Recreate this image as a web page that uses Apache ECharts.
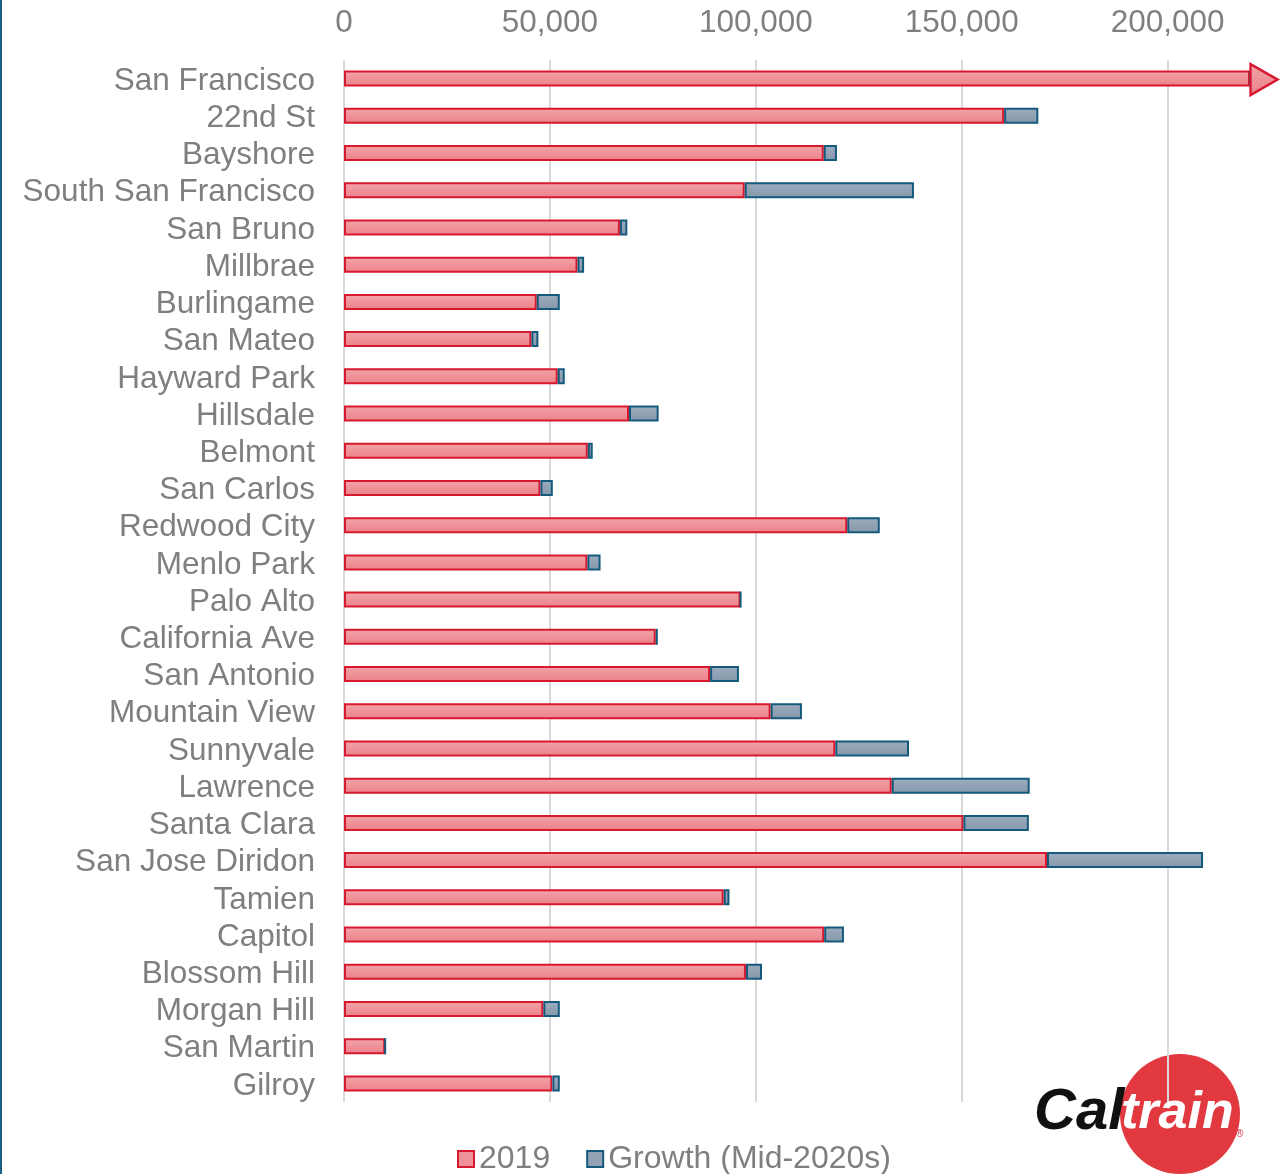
<!DOCTYPE html>
<html>
<head>
<meta charset="utf-8">
<script src="https://cdn.jsdelivr.net/npm/echarts@6/dist/echarts.min.js"></script>
<style>
  html, body { margin: 0; padding: 0; background: #fff; }
  #chart { width: 1287px; height: 1174px; }
</style>
</head>
<body>
<div id="chart"></div>
<script>
// 站点名称（从北到南）
const stations = ['San Francisco', '22nd St', 'Bayshore', 'South San Francisco', 'San Bruno', 'Millbrae',
  'Burlingame', 'San Mateo', 'Hayward Park', 'Hillsdale', 'Belmont', 'San Carlos', 'Redwood City',
  'Menlo Park', 'Palo Alto', 'California Ave', 'San Antonio', 'Mountain View', 'Sunnyvale', 'Lawrence',
  'Santa Clara', 'San Jose Diridon', 'Tamien', 'Capitol', 'Blossom Hill', 'Morgan Hill', 'San Martin', 'Gilroy'];

// 2019 年数值
const values2019 = [220000, 160300, 116500, 97300, 67000, 56700, 46800, 45500, 51900, 69200, 59200, 47700,
  122200, 59100, 96300, 75700, 88900, 103600, 119300, 133000, 150400, 170700, 92200, 116600, 97600,
  48400, 10000, 50600];

// 增长量 (Mid-2020s)
const valuesGrowth = [0, 8300, 3200, 41100, 1800, 1600, 5600, 1700, 1700, 7200, 1200, 3000,
  7900, 3200, 0, 500, 7000, 7600, 17900, 33500, 15900, 37900, 1400, 4800, 3900,
  4000, 0, 1800];

const axisTicks = { min: 0, max: 220000, interval: 50000 };

const chart = echarts.init(document.getElementById('chart'));

const font = 'Liberation Sans, Arial, sans-serif';
const grayText = '#7f7f7f';

const redFill = new echarts.graphic.LinearGradient(0, 0, 0, 1, [
  { offset: 0, color: '#f3a5aa' },
  { offset: 1, color: '#eb8088' }
]);
const blueFill = new echarts.graphic.LinearGradient(0, 0, 0, 1, [
  { offset: 0, color: '#9cadbe' },
  { offset: 1, color: '#8597aa' }
]);

const option = {
  backgroundColor: '#fff',
  animation: false,
  grid: { left: 344, right: 37, top: 60, bottom: 72 },
  legend: {
    left: 452,
    top: 1138,
    itemWidth: 16,
    itemHeight: 16,
    itemGap: 36,
    textStyle: { color: grayText, fontSize: 32, fontFamily: font },
    data: [
      { name: '2019', icon: 'rect', itemStyle: { color: '#ef9199', borderColor: '#d7192f', borderWidth: 2 } },
      { name: 'Growth (Mid-2020s)', icon: 'rect', itemStyle: { color: '#91a3b5', borderColor: '#155a7c', borderWidth: 2 } }
    ]
  },
  xAxis: {
    type: 'value',
    position: 'top',
    min: axisTicks.min,
    max: axisTicks.max,
    interval: axisTicks.interval,
    axisLine: { show: false },
    axisTick: { show: false },
    axisLabel: {
      color: grayText,
      fontSize: 31.5,
      fontFamily: font,
      margin: 21,
      showMaxLabel: false,
      formatter: v => v.toLocaleString('en-US')
    },
    splitLine: { show: true, showMaxLine: false, lineStyle: { color: '#d9d9d9', width: 2 } }
  },
  yAxis: {
    type: 'category',
    inverse: true,
    data: stations,
    axisLine: { show: false },
    axisTick: { show: false },
    axisLabel: {
      interval: 0,
      color: grayText,
      fontSize: 31.5,
      fontFamily: font,
      margin: 29,
      formatter: v => '{s|' + v + '}',
      rich: {
        s: { color: grayText, fontSize: 31.5, fontFamily: font, padding: [5, 0, 0, 0] }
      }
    }
  },
  series: [
    {
      name: '2019',
      type: 'bar',
      stack: 'total',
      barWidth: 16,
      data: values2019,
      itemStyle: { color: redFill, borderColor: '#d7192f', borderWidth: 2 },
      markPoint: {
        symbol: 'path://M0,0L1,0.5L0,1Z',
        symbolSize: [27, 31],
        symbolOffset: [14, 1],
        label: { show: false },
        itemStyle: { color: redFill, borderColor: '#d7192f', borderWidth: 2.5 },
        data: [{ coord: [values2019[0], stations[0]] }]
      }
    },
    {
      name: 'Growth (Mid-2020s)',
      type: 'bar',
      stack: 'total',
      barWidth: 16,
      data: valuesGrowth,
      itemStyle: { color: blueFill, borderColor: '#155a7c', borderWidth: 2 }
    }
  ],
  graphic: [
    // 左侧细线
    { type: 'rect', left: 0, top: 0, shape: { width: 2, height: 1174 }, style: { fill: '#1a5f80' }, z: 100 },
    // Caltrain 标志
    { type: 'circle', shape: { cx: 1180, cy: 1114, r: 60 }, style: { fill: '#e1393f' }, z: -1 },
    {
      type: 'text', left: 1034, top: 1084, z: 100,
      style: { text: 'Cal', fill: '#111', font: 'italic 900 58px Liberation Sans, Arial, sans-serif' }
    },
    {
      type: 'text', left: 1121, top: 1088, z: 100,
      style: { text: 'train', fill: '#fff', font: 'italic 900 52px Liberation Sans, Arial, sans-serif' }
    },
    {
      type: 'text', left: 1236, top: 1129, z: 100,
      style: { text: '®', fill: '#d8343a', font: '10px Liberation Sans, Arial, sans-serif' }
    }
  ]
};

chart.setOption(option);

window.addEventListener('resize', function() {
  chart.resize();
});
</script>
</body>
</html>
